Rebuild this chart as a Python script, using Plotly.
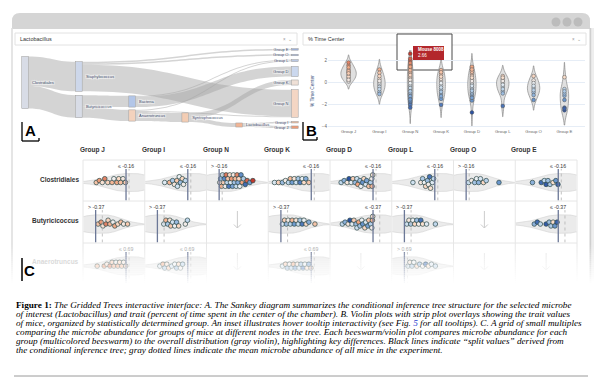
import plotly.graph_objects as go

W, H = 602, 382
def fx(x): return x / W
def fy(y): return 1 - y / H

# ---------------- data ----------------
GROUPS = ['Group J', 'Group I', 'Group N', 'Group K', 'Group D', 'Group L', 'Group O', 'Group E']

# trait (% time center, standardized) per mouse in each group
TRAIT_J = [0.95, 1.6, 0.4, 1.85, 0.7, 1.2, 0.1, 1.4, 0.55, 1.05, 0.25, 0.85]
TRAIT_I = [-0.2, 1.2, -0.85, 0.35, 0.9, -0.4, 0.0, -1.05, 0.6, 0.15, -0.6]
TRAIT_N = [0.4, -1.1, 1.3, -0.35, 0.85, -1.85, 0.1, 2.0, -0.65, 1.0, -2.05, 0.55, -0.2, 1.6, -1.4,
           0.25, -0.95, 1.15, -0.5, 1.8, -1.25, 0.7, -0.05, -1.7, 1.45, -0.8, -2.3, 2.2, -1.55, 2.66]
TRAIT_K = [-0.25, 0.75, -1.05, 0.15, -0.65, 1.15, -1.5, 0.35, -0.45, -0.85, -2.05, -0.05, 0.55, -1.25, 0.95]
TRAIT_D = [-0.6, -1.2, 0.3, -2.75, -0.15, 0.8, -1.05, -0.45, 1.45, -0.9, 0.0, -1.65, 0.6, -0.3, -1.4,
           1.0, -0.75, 0.15, 1.2, 0.45]
TRAIT_L = [-0.4, 0.3, -0.8, 0.0, 0.6, -1.0, 0.15, -2.15, 0.45, -0.2, -0.6]
TRAIT_O = [-0.5, 0.2, -0.9, -0.05, -1.15, -0.3, 0.6, -0.7, -1.6]
TRAIT_E = [-1.2, -2.3, -0.6, -2.55, -1.0, -0.8, 0.5, -1.6, -2.4]
TRAITS = [TRAIT_J, TRAIT_I, TRAIT_N, TRAIT_K, TRAIT_D, TRAIT_L, TRAIT_O, TRAIT_E]

# Sankey tree
SANKEY_NODES = ['Clostridiales', 'Staphylococcus', 'Butyricicoccus', 'Bacteria', 'Anaerotruncus',
                'Syntrophococcus', 'Lactobacillus', 'Group E', 'Group O', 'Group L', 'Group D',
                'Group K', 'Group N', 'Group I', 'Group J']
LINK_SRC = [0, 0, 1, 1, 1, 2, 2, 3, 3, 4, 4, 4, 5, 5, 6, 6]
LINK_TGT = [1, 2, 12, 8, 7, 3, 4, 10, 9, 5, 9, 12, 11, 6, 13, 14]
LINK_VAL = [29, 22, 26, 1.5, 1.5, 11, 11, 10, 1, 9, 1, 1, 5, 4, 1.5, 2.5]

# Grid of small multiples
ROW_MICROBES = ['Clostridiales', 'Butyricicoccus', 'Anaerotruncus']
SPLITS = [-0.16, -0.37, 0.69]
MEANS = [-0.06, -0.15, 0.79]
DIR_CLOSTRIDIALES = ['le', 'le', 'gt', 'le', 'le', 'le', 'gt', 'le']
DIR_BUTYRICICOCCUS = ['gt', 'gt', None, 'gt', 'le', 'gt', None, 'le']
DIR_ANAEROTRUNCUS = ['le', 'le', None, 'le', None, 'gt', None, None]

ABUND_CLOSTRIDIALES = {
    'Group J': [-1.14, -1.04, -0.94, -0.86, -0.76, -0.62, -0.56, -0.46, -0.40, -0.34, -0.26, -0.18],
    'Group I': [-0.92, -0.76, -0.66, -0.60, -0.52, -0.50, -0.44, -0.40, -0.34, -0.30, -0.24],
    'Group N': [-0.14, -0.11, -0.08, -0.05, -0.02, 0.01, 0.04, 0.07, 0.10, 0.13, 0.16, 0.19, 0.22, 0.25,
                0.28, 0.31, 0.34, 0.37, 0.40, 0.43, 0.46, 0.49, 0.52, 0.56, 0.60, 0.64, 0.70, 0.76, 0.85, 0.95],
    'Group K': [-1.37, -1.24, -1.11, -1.01, -0.91, -0.85, -0.79, -0.72, -0.66, -0.59, -0.53, -0.46, -0.40, -0.34, -0.24],
    'Group D': [-1.21, -1.11, -1.01, -0.95, -0.88, -0.82, -0.75, -0.69, -0.66, -0.59, -0.56, -0.50, -0.46,
                -0.40, -0.37, -0.30, -0.24, -0.20, -0.19, -0.17],
    'Group L': [-0.88, -0.62, -0.56, -0.50, -0.46, -0.40, -0.37, -0.33, -0.30, -0.24, -0.20],
    'Group O': [-0.08, 0.02, 0.12, 0.18, 0.25, 0.31, 0.41, 0.50, 0.92],
    'Group E': [-1.01, -0.72, -0.62, -0.56, -0.50, -0.43, -0.33, -0.24, -0.17],
}
ABUND_BUTYRICICOCCUS = {
    'Group J': [-0.29, -0.19, -0.13, -0.03, 0.04, 0.10, 0.20, 0.26, 0.36, 0.46, 0.55, 0.68],
    'Group I': [-0.16, -0.09, -0.03, 0.04, 0.07, 0.13, 0.20, 0.26, 0.33, 0.55, 0.62],
    'Group K': [-0.32, -0.25, -0.19, -0.13, -0.06, 0.00, 0.07, 0.13, 0.20, 0.26, 0.33, 0.39, 0.46, 0.55, 0.75],
    'Group D': [-1.38, -1.29, -1.19, -1.13, -1.06, -1.00, -0.93, -0.90, -0.84, -0.80, -0.74, -0.71, -0.64,
                -0.61, -0.54, -0.51, -0.45, -0.41, -0.39, -0.38],
    'Group L': [-0.29, -0.22, -0.16, -0.09, -0.03, 0.04, 0.10, 0.17, 0.23, 0.36, 0.65],
    'Group E': [-1.16, -1.06, -0.96, -0.77, -0.67, -0.61, -0.54, -0.48, -0.41],
}
ABUND_ANAEROTRUNCUS = {
    'Group J': [-0.26, -0.03, 0.06, 0.16, 0.23, 0.29, 0.36, 0.42, 0.48, 0.55, 0.61, 0.68],
    'Group I': [-0.23, -0.13, -0.07, 0.00, 0.06, 0.16, 0.26, 0.32, 0.39, 0.45, 0.52],
    'Group K': [-0.26, -0.16, -0.10, -0.03, 0.03, 0.10, 0.16, 0.23, 0.29, 0.35, 0.42, 0.48, 0.55, 0.61, 0.68],
    'Group L': [0.81, 0.87, 0.94, 1.00, 1.10, 1.19, 1.29, 1.39, 1.48, 1.58, 1.71],
}
# overall-distribution violin outline (offset from split, half width)
VIOLIN_T = [-0.75, -0.6, -0.45, -0.3, -0.15, 0.0, 0.1, 0.2, 0.3, 0.4, 0.5, 0.6, 0.7, 0.85]
VIOLIN_HW = [0.03, 0.08, 0.16, 0.28, 0.40, 0.45, 0.46, 0.44, 0.38, 0.28, 0.18, 0.10, 0.05, 0.02]

CAPTION = [
    "<b>Figure 1:</b> <i>The Gridded Trees interactive interface: A. The Sankey diagram summarizes the conditional inference tree structure for the selected microbe</i>",
    "<i>of interest (Lactobacillus) and trait (percent of time spent in the center of the chamber). B. Violin plots with strip plot overlays showing the trait values</i>",
    "<i>of mice, organized by statistically determined group. An inset illustrates hover tooltip interactivity (see Fig. <span style='color:#2a3fd0'>5</span> for all tooltips). C. A grid of small multiples</i>",
    "<i>comparing the microbe abundance for groups of mice at different nodes in the tree. Each beeswarm/violin plot compares microbe abundance for each</i>",
    "<i>group (multicolored beeswarm) to the overall distribution (gray violin), highlighting key differences. Black lines indicate “split values” derived from</i>",
    "<i>the conditional inference tree; gray dotted lines indicate the mean microbe abundance of all mice in the experiment.</i>",
]

CS = [[0.0, '#2b52a3'], [0.22, '#6f9bd0'], [0.4, '#c5dbee'], [0.5, '#eef1f4'],
      [0.6, '#fbdcc8'], [0.78, '#f0a27d'], [1.0, '#c0362c']]
CMIN, CMAX = -2.7, 2.7

fig = go.Figure()
shapes = []
annos = []

def rect(x0, y0, x1, y1, **kw):
    d = dict(type='rect', xref='paper', yref='paper', x0=fx(x0), x1=fx(x1), y0=fy(y0), y1=fy(y1))
    d.update(kw)
    shapes.append(d)

def line(x0, y0, x1, y1, color, width=1, layer='above', dash='solid'):
    shapes.append(dict(type='line', xref='paper', yref='paper', x0=fx(x0), x1=fx(x1), y0=fy(y0), y1=fy(y1),
                       line=dict(color=color, width=width, dash=dash), layer=layer))

def text(x, y, s, size, color='#333', bold=False, xanchor='center', family='Arial', angle=0):
    annos.append(dict(x=fx(x), y=fy(y), xref='paper', yref='paper', text=('<b>%s</b>' % s) if bold else s,
                      showarrow=False, xanchor=xanchor, yanchor='middle', textangle=angle,
                      font=dict(size=size, color=color, family=family)))

# ---------------- window chrome ----------------
def P(x, y): return '%.5f,%.5f' % (fx(x), fy(y))
shapes.append(dict(type='path', xref='paper', yref='paper', layer='below',
                   path='M ' + P(12, 29) + ' L ' + P(12, 21) + ' Q ' + P(12, 13) + ' ' + P(20, 13) +
                        ' L ' + P(582, 13) + ' Q ' + P(590, 13) + ' ' + P(590, 21) + ' L ' + P(590, 29) + ' Z',
                   fillcolor='#d5d5d5', line=dict(width=0)))
line(12, 28, 12, 290, '#dcdcdc', 1.5, 'below')
line(590.5, 28, 590.5, 290, '#cfcfcf', 2, 'below')
line(593, 28, 593, 290, '#eeeeee', 2, 'below')
for cx in [556, 567, 578]:
    shapes.append(dict(type='circle', xref='paper', yref='paper', x0=fx(cx - 4.5), x1=fx(cx + 4.5),
                       y0=fy(22 + 4.5), y1=fy(22 - 4.5), fillcolor='#bcbcbc', line=dict(width=0), layer='below'))
# dropdowns
rect(15, 33, 297, 45, fillcolor='white', line=dict(color='#e2e2e2', width=1), layer='below')
rect(303, 33, 586, 45, fillcolor='white', line=dict(color='#e2e2e2', width=1), layer='below')
text(18, 39, 'Lactobacillus', 5.5, '#333', xanchor='left')
text(294, 39, '×  ⌄', 4.5, '#999', xanchor='right')
text(306, 39, '% Time Center', 5.5, '#333', xanchor='left')
text(583, 39, '×  ⌄', 4.5, '#999', xanchor='right')

# tooltip inset box (white, under traces)
rect(397, 34, 452, 70, fillcolor='white', line=dict(color='#4a4a4a', width=1), layer='below')

# ---------------- A: Sankey ----------------
NODE_X = [0.018, 0.212, 0.212, 0.403, 0.403, 0.594, 0.788, 0.989, 0.989, 0.989, 0.989, 0.989, 0.989, 0.989, 0.989]
NODE_Y = [0.419, 0.344, 0.719, 0.656, 0.831, 0.856, 0.95, 0.005, 0.075, 0.145, 0.281, 0.419, 0.681, 0.915, 0.978]
NODE_COLORS = ['#d8dce6', '#cdd7ea', '#d8dce6', '#b3c6e8', '#f3d2bd', '#f3cdb4', '#f1b596', '#9db2dc',
               '#a9bbdd', '#bac8e3', '#cbd8ee', '#efe0d6', '#f4d6c4', '#f0bfa0', '#ec9c78']
fig.add_trace(go.Sankey(
    domain=dict(x=[fx(20), fx(298)], y=[fy(129), fy(49)]),
    arrangement='fixed',
    node=dict(label=SANKEY_NODES, x=NODE_X, y=NODE_Y, pad=4, thickness=6.5, color=NODE_COLORS,
              line=dict(color='#9a9a9a', width=0.5)),
    link=dict(source=LINK_SRC, target=LINK_TGT, value=LINK_VAL, color='rgba(165,165,165,0.48)'),
    textfont=dict(size=4.0, color='#3d4b6b', family='Arial'),
    hoverinfo='none'))

# ---------------- B: violins ----------------
vx, vy = [], []
for g, vals in zip(GROUPS, TRAITS):
    vx += [g] * len(vals)
    vy += vals
fig.add_trace(go.Violin(x=vx, y=vy, xaxis='x', yaxis='y', points=False, width=0.5, spanmode='soft',
                        fillcolor='#e0e0e0', line=dict(color='#888888', width=0.7),
                        hoverinfo='skip', showlegend=False))
fig.add_trace(go.Scatter(x=vx, y=vy, xaxis='x', yaxis='y', mode='markers', hoverinfo='skip', showlegend=False,
                         marker=dict(size=3.7, color=vy, colorscale=CS, cmin=CMIN, cmax=CMAX,
                                     line=dict(color='#505050', width=0.5))))
text(312, 91, '% Time Center', 4.8, '#4b5d85', angle=-90)
# tooltip label
rect(413, 46, 444, 60, fillcolor='#b3272c', line=dict(width=0), layer='above')
text(415.5, 50, '<b>Mouse 8008</b>', 4.5, 'white', xanchor='left')
text(415.5, 56, '2.66', 4.5, 'white', xanchor='left')

# ---------------- C: grid ----------------
CELL_W = 61.75
GRID_L = 83
ROW_TOP = [160, 201, 243]
ROW_BOT = [201, 243, 285]
ROW_CY = [180, 222, 262]
CY = -0.1
DIRS = [DIR_CLOSTRIDIALES, DIR_BUTYRICICOCCUS, DIR_ANAEROTRUNCUS]
ABUNDS = [ABUND_CLOSTRIDIALES, ABUND_BUTYRICICOCCUS, ABUND_ANAEROTRUNCUS]

# cell borders
for r in range(3):
    line(GRID_L, ROW_TOP[r], GRID_L + 8 * CELL_W, ROW_TOP[r], '#e6e6e6', 1, 'below')
line(GRID_L, ROW_BOT[2], GRID_L + 8 * CELL_W, ROW_BOT[2], '#e6e6e6', 1, 'below')
for c in range(9):
    line(GRID_L + c * CELL_W, ROW_TOP[0], GRID_L + c * CELL_W, ROW_BOT[2], '#e6e6e6', 1, 'below')

for c, g in enumerate(GROUPS):
    text(GRID_L + 9 + c * CELL_W, 150, g, 6.5, '#333', bold=True)
for r, m in enumerate(ROW_MICROBES):
    text(81, ROW_CY[r] - 1, m, 6.5, '#333' if r < 2 else '#dadada', bold=True, xanchor='right')


def swarm(px, d=3.9):
    n = len(px)
    order = sorted(range(n), key=lambda i: px[i])
    out = [0.0] * n
    placed = []
    cands = [0.0]
    for m in range(1, 30):
        cands += [m * d * 0.5, -m * d * 0.5]
    for i in order:
        for cnd in cands:
            if all((px[i] - px[j]) ** 2 + (cnd - out[j]) ** 2 >= d * d * 0.75 for j in placed):
                out[i] = cnd
                break
        placed.append(i)
    return out


layout_axes = {}
n_ax = 2
for r in range(3):
    s = SPLITS[r]
    top, bot = ROW_TOP[r], ROW_BOT[r]
    ppu_y = (bot - top) / 2.0
    for c, g in enumerate(GROUPS):
        d = DIRS[r][c]
        L = GRID_L + c * CELL_W
        R = L + CELL_W
        if d is None:
            cx = L + CELL_W / 2
            col = '#cccccc' if r < 2 else '#e4e4e4'
            line(cx, top + 10, cx, top + 27, col, 1, 'above')
            shapes.append(dict(type='path', xref='paper', yref='paper', layer='above',
                               path='M ' + P(cx - 3.5, top + 23.5) + ' L ' + P(cx, top + 27) + ' L ' + P(cx + 3.5, top + 23.5),
                               line=dict(color=col, width=1)))
            continue
        rng = [s - 1.4, s + 0.6] if d == 'le' else [s - 0.4, s + 1.6]
        xa, ya = 'x%d' % n_ax, 'y%d' % n_ax
        layout_axes['xaxis%d' % n_ax] = dict(domain=[fx(L + 0.5), fx(R - 0.5)], range=rng, visible=False,
                                             anchor=ya, fixedrange=True)
        layout_axes['yaxis%d' % n_ax] = dict(domain=[fy(bot - 0.5), fy(top + 0.5)], range=[-1, 1], visible=False,
                                             anchor=xa, fixedrange=True)
        n_ax += 1
        ox = [s + 2 * t for t in VIOLIN_T]
        fig.add_trace(go.Scatter(x=ox + ox[::-1], y=[CY + h for h in VIOLIN_HW] + [CY - h for h in VIOLIN_HW[::-1]],
                                 xaxis=xa, yaxis=ya, mode='lines', fill='toself', fillcolor='#ebebeb',
                                 line=dict(color='#d2d2d2', width=0.6), hoverinfo='skip', showlegend=False))
        shapes.append(dict(type='line', xref=xa, yref=ya, x0=MEANS[r], x1=MEANS[r], y0=-1, y1=0.58,
                           line=dict(color='#b3b3b3', width=0.8, dash='dot'), layer='above'))
        shapes.append(dict(type='line', xref=xa, yref=ya, x0=s, x1=s, y0=-1, y1=0.58,
                           line=dict(color='#6c7897', width=1.3), layer='above'))
        lab = ('≤ %.2f' if d == 'le' else '> %.2f') % s
        annos.append(dict(x=s, y=0.75, xref=xa, yref=ya, text=lab, showarrow=False, xanchor='center',
                          yanchor='middle', font=dict(size=5.2, color='#333' if r < 2 else '#b0b0b0', family='Arial')))
        vals = ABUNDS[r][g]
        px = [(v - rng[0]) / 2.0 * CELL_W for v in vals]
        offs = swarm(px)
        fig.add_trace(go.Scatter(x=vals, y=[CY + o / ppu_y for o in offs], xaxis=xa, yaxis=ya, mode='markers',
                                 hoverinfo='skip', showlegend=False,
                                 marker=dict(size=4.6, color=TRAITS[c], colorscale=CS, cmin=CMIN, cmax=CMAX,
                                             line=dict(color='#2b4646', width=0.7))))

# fade-out of the bottom of the screenshot
N_STRIPS = 20
for i in range(N_STRIPS):
    y0 = 245 + i * 2
    shapes.append(dict(type='rect', xref='paper', yref='paper', x0=0, x1=1, y0=fy(y0 + 2.2), y1=fy(y0),
                       fillcolor='white', opacity=min(1.0, (i + 1) / N_STRIPS), line=dict(width=0), layer='above'))
rect(0, 284, 602, 292, fillcolor='white', line=dict(width=0), layer='above')

# panel letters with brackets
for (xl, xr, yt, yb) in [(22, 39, 122, 141), (303, 317, 122, 140)]:
    line(xl, yt, xl, yb, 'black', 1.3)
    line(xl, yb, xr, yb, 'black', 1.3)
    line(xr, yb - 3, xr, yb, 'black', 1.3)
line(22, 258, 22, 281, 'black', 1.5)
text(30.5, 130, 'A', 15, 'black', bold=True)
text(311.5, 131, 'B', 15, 'black', bold=True)
text(29.5, 270, 'C', 15, 'black', bold=True)

# caption
for i, ln in enumerate(CAPTION):
    text(14, 305 + 9 * i, ln, 9.2, 'black', xanchor='left', family='Liberation Serif')
line(14, 376, 588, 376, '#9a9a9a', 1, 'above')

fig.update_layout(
    width=W, height=H, margin=dict(l=0, r=0, t=0, b=0),
    paper_bgcolor='white', plot_bgcolor='rgba(0,0,0,0)', showlegend=False,
    xaxis=dict(domain=[fx(328), fx(585)], anchor='y', categoryorder='array', categoryarray=GROUPS,
               showgrid=False, zeroline=False, showline=False, ticks='',
               tickfont=dict(size=4.3, color='#666', family='Arial'), fixedrange=True),
    yaxis=dict(domain=[fy(128), fy(50)], anchor='x', range=[-4.18, 3.0], tickvals=[2, 0, -2, -4],
               showgrid=True, gridcolor='#e6edf6', gridwidth=0.6, zeroline=False, showline=False, ticks='',
               tickfont=dict(size=4.5, color='#666', family='Arial'), fixedrange=True),
    shapes=shapes, annotations=annos,
)
fig.update_layout(**layout_axes)
fig.write_html('out.html')
